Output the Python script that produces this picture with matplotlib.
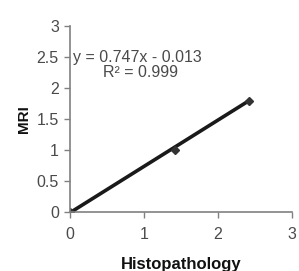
import numpy as np
import matplotlib.pyplot as plt

plt.rcParams['font.family'] = ['Liberation Sans', 'DejaVu Sans']

# data
histo = [0, 1.42, 2.42]
mri = [0, 1.0, 1.8]
xticks = [0, 1, 2, 3]
yticks = [0, 0.5, 1, 1.5, 2, 2.5, 3]
slope, intercept = 0.747, -0.013

fig = plt.figure(figsize=(2.99, 2.71), dpi=100)
ax = fig.add_axes([0.234, 0.218, 0.741, 0.685])

xx = np.array([histo[0], histo[-1]])
ax.plot(xx, slope * xx + intercept, color='#1a1a1a', lw=2.6, solid_capstyle='butt')
ax.plot(histo, mri, ls='none', marker='D', ms=4, color='#333333')

ax.set_xlim(0, 3)
ax.set_ylim(0, 3)
ax.set_xticks(xticks)
ax.set_yticks(yticks)
ax.set_yticklabels(['0', '0.5', '1', '1.5', '2', '2.5', '3'])

for s in ['top', 'right']:
    ax.spines[s].set_visible(False)
for s in ['left', 'bottom']:
    ax.spines[s].set_color('#808080')
    ax.spines[s].set_linewidth(1.2)
ax.tick_params(colors='#808080', labelcolor='#4a4a4a', labelsize=11.5, length=4, width=1)
ax.tick_params(axis='x', pad=7)
ax.tick_params(axis='y', pad=4)

# keep the x label just inside the bottom edge
ax.set_xlabel('Histopathology', fontsize=12, fontweight='bold', labelpad=11, color='#111111')
ax.set_ylabel('MRI', fontsize=11, fontweight='bold', labelpad=4, color='#111111')

ax.text(0.04, 2.49, 'y = 0.747x - 0.013', fontsize=11.5, color='#4a4a4a', va='center', ha='left')
ax.text(0.45, 2.25, 'R² = 0.999', fontsize=11.5, color='#4a4a4a', va='center', ha='left')

fig.savefig('out.png', dpi=100)
